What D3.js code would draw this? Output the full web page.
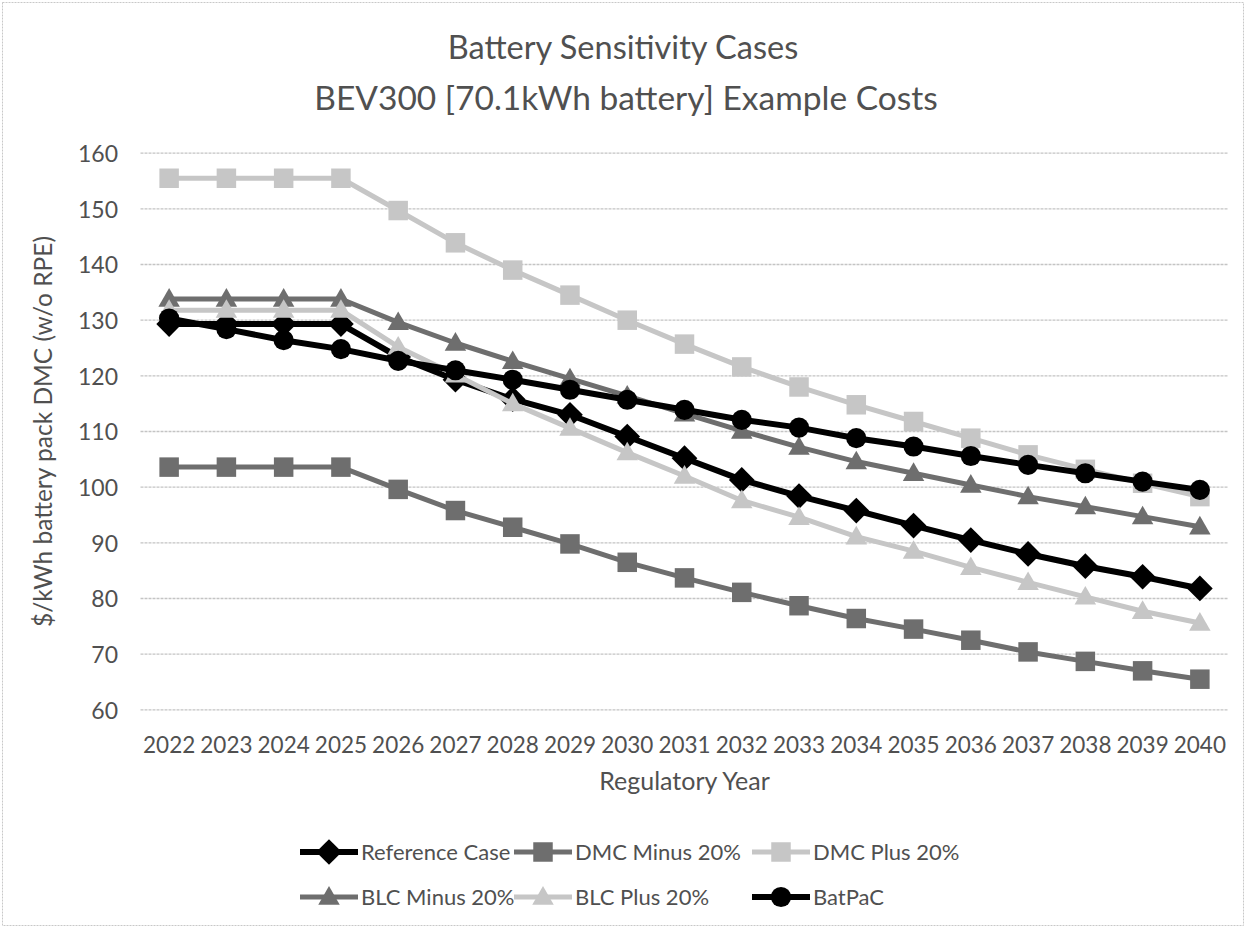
<!DOCTYPE html>
<html>
<head>
<meta charset="utf-8">
<script src="https://cdn.jsdelivr.net/npm/d3@7"></script>
<style>
  html, body { margin: 0; padding: 0; background: #fff; }
  svg { display: block; }
  text { font-family: Lato, "Open Sans", sans-serif; fill: #505050; }
</style>
</head>
<body>
<svg id="chart" width="1246" height="928"></svg>
<script>
// Regulatory years (category axis)
const years = ["2022","2023","2024","2025","2026","2027","2028","2029","2030",
               "2031","2032","2033","2034","2035","2036","2037","2038","2039","2040"];

// $/kWh battery pack DMC (w/o RPE), one value per year
const referenceCase = [129.3,129.3,129.3,129.3,123.4,119.3,115.8,113.0,109.1,105.2,101.3,98.4,95.8,93.1,90.5,88.0,85.8,83.9,81.8];
const dmcMinus20    = [103.6,103.6,103.6,103.6,99.6,95.8,92.8,89.8,86.5,83.7,81.1,78.7,76.4,74.5,72.5,70.4,68.7,67.0,65.5];
const dmcPlus20     = [155.5,155.5,155.5,155.5,149.7,143.9,139.0,134.5,130.0,125.7,121.6,118.0,114.8,111.8,108.8,105.8,103.2,100.7,98.3];
const blcMinus20    = [133.8,133.8,133.8,133.8,129.6,125.9,122.6,119.5,116.4,113.2,110.1,107.2,104.6,102.5,100.4,98.3,96.5,94.7,92.9];
const blcPlus20     = [131.8,131.8,131.8,131.8,125.2,120.2,115.0,110.6,106.2,102.0,97.6,94.6,91.1,88.5,85.6,82.9,80.3,77.7,75.6];
const batpac        = [130.3,128.4,126.4,124.8,122.7,121.0,119.3,117.5,115.7,113.9,112.1,110.7,108.8,107.3,105.6,104.0,102.5,101.0,99.5];

const yTicks = [60,70,80,90,100,110,120,130,140,150,160];

const seriesNames = ["Reference Case","DMC Minus 20%","DMC Plus 20%","BLC Minus 20%","BLC Plus 20%","BatPaC"];
const seriesValues = [referenceCase, dmcMinus20, dmcPlus20, blcMinus20, blcPlus20, batpac];

// Visual style per series
const styles = [
  {color:"#000000", width:6,   shape:"diamond"},
  {color:"#6e6e6e", width:5,   shape:"square"},
  {color:"#c6c6c6", width:5,   shape:"square"},
  {color:"#6e6e6e", width:5,   shape:"triangle"},
  {color:"#c6c6c6", width:5,   shape:"triangle"},
  {color:"#000000", width:6,   shape:"circle"}
];

const svg = d3.select("#chart");
const W = 1246, H = 928;
const plot = {left:140.5, right:1228.5, top:153.2, bottom:709.8};

svg.append("rect").attr("x",0).attr("y",0).attr("width",W).attr("height",H).attr("fill","#fff");
// outer chart border
svg.append("rect").attr("x",2.5).attr("y",2.5).attr("width",W-5).attr("height",H-5)
  .attr("fill","none").attr("stroke","#c8c8c8").attr("stroke-width",1).attr("stroke-dasharray","2,1");

const x = d3.scaleBand().domain(years).range([plot.left, plot.right]).padding(0);
const xc = d => x(d) + x.bandwidth()/2;
const y = d3.scaleLinear().domain([60,160]).range([plot.bottom, plot.top]);

// horizontal gridlines
svg.append("g").selectAll("line").data(yTicks).join("line")
  .attr("x1",plot.left).attr("x2",plot.right)
  .attr("y1",d=>y(d)).attr("y2",d=>y(d))
  .attr("stroke","#c4c4c4").attr("stroke-width",1.3).attr("stroke-dasharray","3,1");

// y axis labels
const yAxis = d3.axisLeft(y).tickValues(yTicks).tickSize(0).tickPadding(0);
const gy = svg.append("g").attr("transform",`translate(118,0)`).call(yAxis);
gy.select(".domain").remove();
gy.selectAll("text").attr("font-size",23).attr("dy","0.36em").style("font-family","Lato").attr("fill","#505050");

// x axis labels
const xAxis = d3.axisBottom(x).tickSize(0).tickPadding(0);
const gx = svg.append("g").attr("transform",`translate(0,${plot.bottom+35})`).call(xAxis);
gx.select(".domain").remove();
gx.selectAll("text").attr("font-size",22.5).attr("dy","0.36em").style("font-family","Lato").attr("fill","#505050");

// titles
svg.append("text").attr("x",623).attr("y",59).attr("text-anchor","middle")
  .attr("font-size",32.5).text("Battery Sensitivity Cases");
svg.append("text").attr("x",626).attr("y",110).attr("text-anchor","middle")
  .attr("font-size",33.5).text("BEV300 [70.1kWh battery] Example Costs");
svg.append("text").attr("x",(plot.left+plot.right)/2).attr("y",790).attr("text-anchor","middle")
  .attr("font-size",25).text("Regulatory Year");
svg.append("text").attr("transform",`translate(52,${(plot.top+plot.bottom)/2}) rotate(-90)`)
  .attr("text-anchor","middle").attr("font-size",24.5).text("$/kWh battery pack DMC (w/o RPE)");

// marker generator
function markerPath(shape){
  if (shape === "diamond") return d3.symbol().type(d3.symbolSquare).size(330)();
  if (shape === "square")  return d3.symbol().type(d3.symbolSquare).size(380)();
  if (shape === "circle")  return d3.symbol().type(d3.symbolCircle).size(320)();
  return d3.symbol().type(d3.symbolTriangle).size(200)();
}
function markerTransform(shape, px, py){
  if (shape === "diamond") return `translate(${px},${py}) rotate(45)`;
  if (shape === "triangle") return `translate(${px},${py+1.5})`;
  return `translate(${px},${py})`;
}

const line = d3.line().x((d,i)=>xc(years[i])).y(d=>y(d));

// series (drawn in legend order, later ones on top)
seriesValues.forEach((vals, si) => {
  const st = styles[si];
  const g = svg.append("g");
  g.append("path").datum(vals).attr("d",line)
    .attr("fill","none").attr("stroke",st.color).attr("stroke-width",st.width)
    .attr("stroke-linejoin","round");
  g.selectAll("path.m").data(vals).join("path").attr("class","m")
    .attr("d",markerPath(st.shape))
    .attr("transform",(d,i)=>markerTransform(st.shape, xc(years[i]), y(d)))
    .attr("fill",st.color);
});

// legend
const legendCols = [300, 514, 752];
const legendRows = [852, 897];
seriesNames.forEach((name, si) => {
  const st = styles[si];
  const lx = legendCols[si % 3], ly = legendRows[Math.floor(si/3)];
  const g = svg.append("g");
  g.append("line").attr("x1",lx).attr("x2",lx+58).attr("y1",ly).attr("y2",ly)
    .attr("stroke",st.color).attr("stroke-width",st.width);
  g.append("path").attr("d",markerPath(st.shape))
    .attr("transform",markerTransform(st.shape, lx+29, ly)).attr("fill",st.color);
  g.append("text").attr("x",lx+61).attr("y",ly).attr("dy","0.36em")
    .attr("font-size",22).text(name);
});
</script>
</body>
</html>
